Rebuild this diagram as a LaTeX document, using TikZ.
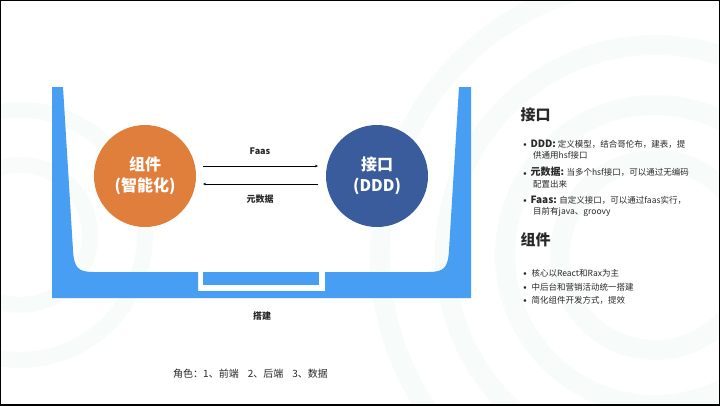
\documentclass[tikz,border=0pt]{standalone}
\usepackage{fontspec}
\setmainfont{Noto Sans CJK SC}
\definecolor{tubblue}{RGB}{72,158,242}
\definecolor{compcolor}{RGB}{224,127,60}
\definecolor{apicolor}{RGB}{58,92,156}
\definecolor{textgray}{RGB}{40,40,40}
\definecolor{ringcolor}{RGB}{247,251,249}
\usetikzlibrary{arrows.meta}
\newcommand{\dotmark}{\raisebox{0.3pt}{$\scriptstyle\bullet$}}
\begin{document}
\begin{tikzpicture}[x=1pt,y=-1pt,
		ball/.style={circle,minimum size=102pt,inner sep=0pt,text=white,font=\fontsize{16}{21}\selectfont\bfseries,align=center},
		label/.style={font=\fontsize{9}{11}\selectfont\bfseries,text=textgray},
		head/.style={anchor=west,font=\fontsize{15}{18}\selectfont\bfseries,text=textgray},
		line/.style={anchor=west,inner sep=0pt,font=\fontsize{8.5}{10}\selectfont,text=textgray},
		flow/.style={-{Stealth[length=3pt,width=2.5pt]},line width=0.6pt,black}]
	\useasboundingbox (0,0) rectangle (720,405);
	\fill[white] (0,0) rectangle (720,405);

	% faint rings in the back
	\foreach \r in {95,150,210,275}
		\draw[ringcolor,line width=20pt] (655,255) circle[radius=\r];
	\foreach \r in {70,125}
		\draw[ringcolor,line width=16pt] (20,235) circle[radius=\r];

	% the tub
	\fill[tubblue] (52,87) -- (63,87) -- (73,250) .. controls (74,268) and (78,272) .. (94,272)
		-- (198,272) -- (198,291) -- (325,291) -- (325,272) -- (428,272)
		.. controls (444,272) and (448,268) .. (449,250) -- (459,87) -- (471,87)
		-- (471,298) -- (52,298) -- cycle;
	\fill[tubblue] (203,272) rectangle (319,285);

	\node(comp) [ball,fill=compcolor] at (145,176) {组件\\(智能化)};
	\node(api) [ball,fill=apicolor] at (377,176) {接口\\(DDD)};

	\coordinate(fl) at (203,166);
	\coordinate(fr) at (318,166);
	\coordinate(ml) at (203,184);
	\coordinate(mr) at (318,184);
	\draw[flow] (fl) -- (fr);
	\draw[flow] (mr) -- (ml);
	\node(faas) [label] at (260,151) {Faas};
	\node(meta) [label] at (260,199) {元数据};
	\node(build) [label] at (262,316) {搭建};

	\node(roles) [anchor=west,inner sep=0pt,font=\fontsize{10}{12}\selectfont,text=textgray] at (173,374)
		{角色：1、前端\hspace{9pt}2、后端\hspace{9pt}3、数据};

	% right panel
	\node(h1) [head] at (517,115) {接口};
	\node(a1) [line] at (523,144) {\dotmark\hspace{3.5pt}{\fontsize{10}{10}\selectfont\bfseries DDD:} 定义模型，结合哥伦布，建表，提};
	\node(a2) [line] at (533,155.5) {供通用hsf接口};
	\node(a3) [line] at (523,172) {\dotmark\hspace{3.5pt}{\fontsize{10}{10}\selectfont\bfseries 元数据:} 当多个hsf接口，可以通过无编码};
	\node(a4) [line] at (533,184) {配置出来};
	\node(a5) [line] at (523,200) {\dotmark\hspace{3.5pt}{\fontsize{10}{10}\selectfont\bfseries Faas:} 自定义接口，可以通过faas实行，};
	\node(a6) [line] at (533,212) {目前有java、groovy};

	\node(h2) [head] at (517,240) {组件};
	\node(b1) [line] at (523,273) {\dotmark\hspace{4.5pt}核心以React和Rax为主};
	\node(b2) [line] at (523,287) {\dotmark\hspace{4.5pt}中后台和营销活动统一搭建};
	\node(b3) [line] at (523,300) {\dotmark\hspace{4.5pt}简化组件开发方式，提效};

	\draw[black,line width=2pt] (0,0) rectangle (720,405);
\end{tikzpicture}
\end{document}
